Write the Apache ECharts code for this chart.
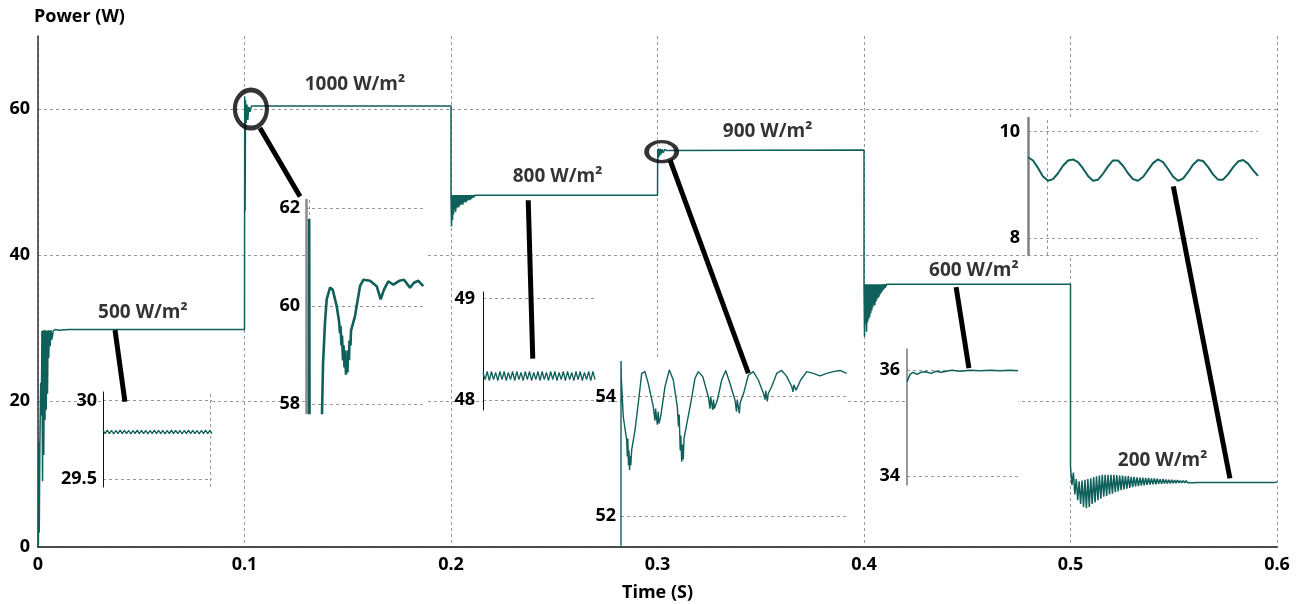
<!DOCTYPE html>
<html><head><meta charset="utf-8">
<script src="https://cdn.jsdelivr.net/npm/echarts@6/dist/echarts.min.js"></script>
<style>html,body{margin:0;padding:0;background:#fff}#c{width:1303px;height:604px}</style>
</head><body><div id="c"></div>
<script>
// ---------- main axes ----------
const xTicks = [0, 0.1, 0.2, 0.3, 0.4, 0.5, 0.6];
const yTicks = [0, 20, 40, 60];

// ---------- main trace (time s, power W) ----------
const startup = [[0,0],[0.0002,0.5],[0.0004,14.4],[0.0006,2],[0.0009,14],[0.0013,22.5],[0.0016,18],[0.0019,29.6],[0.0022,9],[0.0025,29.7],[0.0028,12.6],[0.0031,29.7],[0.0034,17.4],[0.0037,29.7],[0.0040,18.8],[0.0043,29.6],[0.0046,21],[0.0049,29.7],[0.0052,25.9],[0.0055,29.7],[0.0059,27.5],[0.0063,29.7],[0.0067,28.4],[0.0074,29.6],[0.0085,29.8],[0.010,29.7],[0.015,29.8],[0.1,29.8]];
const step1000 = [[0.1001,61.7],[0.1003,46],[0.1005,61.2],[0.1008,58.1],[0.1012,60.6],[0.1016,58.5],[0.1021,60.3],[0.1027,59.6],[0.1034,60.4],[0.2,60.4]];
const dip800 = [48.0,43.9,48.2,44.8,48.2,45.6,48.2,46.2,48.2,45.9,48.2,46.4,48.2,46.6,48.2,46.5,48.2,46.8,48.2,46.9,48.2,47.0,48.2,46.9,48.2,47.2,48.2,47.3,48.2,47.2,48.2,47.4,48.2,47.5,48.2,47.6,48.2,47.5,48.2,47.7,48.2,47.8,48.2,47.9,48.2,47.9,48.2,48.0,48.2,48.1,48.2,48.1];
const step900 = [[0.213,48.2],[0.3,48.2],[0.3001,54.5],[0.3003,53.3],[0.3006,54.6],[0.3009,53.5],[0.3013,54.5],[0.3017,53.8],[0.3022,54.5],[0.3028,54.0],[0.3035,54.45],[0.3045,54.3],[0.4,54.4]];
const dip600 = [36.0,28.8,36.0,30.5,36.0,29.5,36.0,30.8,36.0,31.2,36.0,31.5,36.0,32.0,36.0,32.4,36.0,32.8,36.0,33.2,36.0,33.1,36.0,33.6,36.0,33.9,36.0,34.1,36.0,34.3,36.0,34.6,36.0,34.8,36.0,35.0,36.0,35.2,36.0,35.4,36.0,35.5,36.0,35.7,36.0,35.8,36.0,35.9,36.0,36.0];
const hold600 = [[0.5,36.0]];
const dip200 = [11.0,8.5,10.2,7.2,9.3,6.4,9.0,5.9,9.1,5.5,9.2,5.3,
  9.3,5.5,9.4,5.9,9.6,6.1,9.7,6.4,9.8,6.6,9.9,6.9,
  9.9,7.0,9.9,7.2,9.9,7.3,9.9,7.5,9.85,7.6,9.8,7.8,
  9.8,7.9,9.7,8.0,9.7,8.1,9.6,8.2,9.6,8.3,9.55,8.35,
  9.5,8.4,9.5,8.45,9.45,8.5,9.45,8.55,9.4,8.6,9.4,8.6,
  9.35,8.65,9.3,8.65,9.3,8.7,9.25,8.7,9.2,8.7,9.2,8.75,
  9.15,8.75,9.15,8.8,9.1,8.8,9.1,8.8,9.1,8.8,9.05,8.8,
  9.05,8.8,9.05,8.82,9.0,8.82,9.0,8.82,9.0,8.82,9.0,8.82,
  9.0,8.82,9.0,8.82,9.0,8.82,9.0,8.82,9.0,8.82,9.0,8.82,
  9.0,8.82,9.0,8.82,9.0,8.82,9.0,8.82,9.0,8.82,9.0,8.82,
  9.0,8.82,9.0,8.82,9.0,8.82,9.0,8.82,9.0,8.82,9.0,8.82,
  9.0,8.82,9.0,8.82,9.0,8.82,9.0,8.82,9.0,8.82,9.0];
const endPoint = [[0.6,8.9]];
const dip800Start = 0.2, dip800Step = 0.00025;
const dip600Start = 0.4, dip600Step = 0.00025;
const dip200Start = 0.5, dip200Step = 0.0007;

// ---------- zoom insets (inset time units, power W) ----------
const inset500 = [29.81,29.79,29.812,29.79,29.81,29.788,29.81,29.79,29.812,29.79,29.81,29.79,29.81,29.788,29.81,29.79,29.812,29.79,29.81,29.79,29.81,29.788,29.81,29.79,29.812,29.79,29.81,29.79,29.81,29.788,29.81,29.79,29.812,29.79,29.81,29.79,29.81,29.788,29.81,29.79,29.812,29.79,29.81,29.79,29.81,29.788,29.81,29.79,29.812,29.79,29.81,29.79];
const inset1000 = [[3,57.3],[3.2,61.78],[3.6,57.3],[15.5,57.3],[17,58.8],[19,59.67],[20.7,60.14],[24,60.38],[26.7,60.34],[30.7,60.0],[33,59.7],[34,59.45],[34.5,59.6],[35.5,59.2],[36,59.4],[37,58.9],[37.5,59.2],[38.5,58.75],[39,59.1],[40,58.6],[40.5,59.0],[41.5,58.65],[42,59.1],[43,58.9],[43.5,59.3],[44.5,59.2],[45,59.5],[49,59.8],[54,60.41],[57.3,60.54],[64,60.52],[70.7,60.41],[74.7,60.14],[78,60.34],[82.3,60.51],[87.3,60.44],[93.3,60.52],[98,60.54],[104,60.38],[108,60.48],[112.3,60.52],[117.3,60.41]];
const inset800 = [48.27,48.2,48.28,48.19,48.28,48.2,48.27,48.19,48.28,48.2,48.28,48.19,48.27,48.2,48.28,48.19,48.28,48.2,48.27,48.19,48.28,48.2,48.28,48.19,48.27,48.2,48.28,48.19,48.28,48.2,48.27,48.19,48.28,48.2,48.28,48.19,48.27,48.2,48.28,48.19,48.28,48.2,48.27,48.19,48.28,48.2,48.28,48.19,48.27,48.2,48.28,48.19,48.28,48.2];
const inset900 = [[0,51.3],[0,54.6],[0.3,54.31],[2.3,53.66],[5.7,53.27],[6.3,53.0],[6.8,53.3],[7.5,52.85],[8.0,53.1],[8.5,52.77],[9.2,53.0],[9.8,52.85],[10.7,53.11],[14,53.44],[17.3,53.89],[20.7,54.39],[24,54.42],[27.3,54.22],[32.3,53.83],[34,53.6],[34.6,53.8],[36.3,53.53],[37.2,53.75],[38,53.55],[39.7,53.67],[44,54.17],[48.3,54.45],[52.3,54.28],[56.3,53.83],[57.5,53.5],[58.2,53.7],[59.2,53.1],[59.8,53.35],[60.7,52.91],[61.5,53.2],[62.3,52.95],[63,53.3],[65,53.33],[69.7,53.89],[74,54.31],[77.3,54.42],[81.7,54.34],[87.3,54.0],[89,53.8],[89.6,54.0],[91.7,53.78],[92.5,53.95],[93.3,53.8],[96.3,53.94],[100.7,54.28],[104.7,54.44],[109,54.22],[114,53.94],[115.5,53.75],[116.2,53.95],[118.3,53.72],[119.2,53.9],[123,54.08],[127.3,54.36],[132.3,54.42],[137.3,54.28],[142.3,54.06],[144,53.95],[144.7,54.1],[146.3,53.92],[147.2,54.05],[150.7,54.17],[155.7,54.39],[160.7,54.44],[165.7,54.34],[170.7,54.17],[172,54.08],[172.8,54.2],[175,54.11],[179.7,54.28],[185.7,54.42],[192.3,54.39],[199,54.35],[205.7,54.39],[212.3,54.42],[219,54.44],[225.7,54.39]];
const inset600 = [[0,35.78],[3,35.92],[6,35.96],[10,35.92],[14,35.96],[19,35.97],[24,35.94],[29,35.98],[34,35.96],[39,35.98],[45,36.0],[53,35.98],[63,36.0],[73,35.99],[83,36.0],[93,35.99],[103,36.0],[111,35.99]];
const inset200 = [9.52,9.46,9.32,9.16,9.08,9.11,9.22,9.36,9.46,9.48,9.43,9.31,9.17,9.08,9.10,9.21,9.35,9.46,9.46,9.36,9.22,9.11,9.08,9.15,9.28,9.41,9.48,9.43,9.30,9.16,9.08,9.12,9.24,9.38,9.47,9.45,9.34,9.20,9.10,9.10,9.20,9.33,9.44,9.47,9.40,9.28,9.17];

// ---------- annotations (main data coordinates) ----------
const labelTexts = ['500 W/m²','1000 W/m²','800 W/m²','900 W/m²','600 W/m²','200 W/m²'];
const labelPos = [[0.0508,32.05],[0.1535,63.3],[0.2516,50.7],[0.3533,56.9],[0.4532,37.85],[0.5446,11.8]];
const callouts = [
  [[0.0373,29.7],[0.0421,19.9]],
  [[0.1075,57.4],[0.1269,48.0]],
  [[0.2374,47.5],[0.2396,25.8]],
  [[0.3061,53.0],[0.3440,23.8]],
  [[0.4446,35.6],[0.4508,24.5]],
  [[0.5498,49.4],[0.5772,9.4]]
];
const circles = [[0.1031,60.0],[0.3020,54.15]];

// ---------- build ----------
const TEAL = '#0f5f5b';
const FONT = 'Open Sans';
function sampled(t0, dt, vals){ return vals.map((v,i)=>[t0+i*dt, v]); }
const mainData = [].concat(startup, step1000,
  sampled(dip800Start, dip800Step, dip800), step900,
  sampled(dip600Start, dip600Step, dip600), hold600,
  sampled(dip200Start, dip200Step, dip200), endPoint);

const insets = [
  {rect:{left:103,top:392,width:109,height:95}, y:[29.45,30.055], ticks:[29.5,30], x:[0,51], data:inset500.map((v,i)=>[i,v]), axis:{color:'#111',width:1}, vline:50.1, lw:1.3, margin:6},
  {rect:{left:306,top:200,width:119,height:213}, y:[57.82,62.17], ticks:[58,60,62], x:[0,119], data:inset1000, axis:{color:'#8a8a8a',width:2.5}, vline:3, lw:2.6, margin:6},
  {rect:{left:483,top:292,width:112,height:118}, y:[47.9,49.065], ticks:[48,49], x:[0,53], data:inset800.map((v,i)=>[i,v]), axis:{color:'#111',width:1}, vline:null, lw:1.3, margin:8},
  {rect:{left:621,top:360,width:227,height:185}, y:[51.515,54.615], ticks:[52,54], x:[0,227], data:inset900, axis:null, vline:null, lw:1.4, margin:5},
  {rect:{left:907,top:349,width:111,height:136}, y:[33.83,36.4], ticks:[34,36], x:[0,111], data:inset600, axis:{color:'#777',width:1.5}, vline:null, lw:1.5, margin:7},
  {rect:{left:1028,top:118,width:230,height:137}, y:[7.686,10.257], ticks:[8,10], x:[0,46], data:inset200.map((v,i)=>[i,v]), axis:{color:'#808080',width:2.5}, vline:3.8, lw:2, margin:8}
];

const grid = [{left:38, right:26, top:36, bottom:57, z:0, containLabel:false, outerBoundsMode:'none'}];
const xAxis = [
  {gridIndex:0, type:'value', min:0, max:0.6, interval:0.1,
   axisLine:{show:true, onZero:false, lineStyle:{color:'#333', width:1.5}},
   axisTick:{show:false},
   axisLabel:{color:'#000', fontSize:18, fontWeight:'bold', fontFamily:FONT, margin:9, formatter:v=>String(+v.toFixed(1))},
   splitLine:{show:true, lineStyle:{color:'#999', type:[3,3], width:1}},
   name:'Time (S)', nameLocation:'middle', nameGap:37,
   nameTextStyle:{color:'#000', fontSize:18, fontWeight:'bold', fontFamily:FONT}}
];
const yAxis = [
  {gridIndex:0, type:'value', min:0, max:70, interval:20,
   axisLine:{show:true, lineStyle:{color:'#333', width:1.5}},
   axisTick:{show:false, customValues:yTicks},
   axisLabel:{color:'#000', fontSize:18, fontWeight:'bold', fontFamily:FONT, margin:8, customValues:yTicks, formatter:v=>v>65?'':String(v)},
   splitLine:{show:true, lineStyle:{color:'#999', type:[3,3], width:1}},
   name:'Power (W)', nameLocation:'end', nameGap:19,
   nameTextStyle:{color:'#000', fontSize:18, fontWeight:'bold', fontFamily:FONT, align:'left', verticalAlign:'middle', padding:[0,0,0,-4]}}
];
const series = [
  {type:'line', xAxisIndex:0, yAxisIndex:0, data:mainData, showSymbol:false, symbol:'none',
   lineStyle:{color:TEAL, width:1.5}, z:2, animation:false}
];

insets.forEach((ins, k)=>{
  const gi = k+1;
  grid.push(Object.assign({show:true, backgroundColor:'#fff', borderWidth:0, z:3, containLabel:false, outerBoundsMode:'none'}, ins.rect));
  xAxis.push({gridIndex:gi, type:'value', min:ins.x[0], max:ins.x[1], show:false});
  yAxis.push({gridIndex:gi, type:'value', min:ins.y[0], max:ins.y[1], z:4,
    axisLine:{show:!!ins.axis, lineStyle:ins.axis||{}},
    axisTick:{show:false, customValues:ins.ticks},
    axisLabel:{color:'#000', fontSize:18, fontWeight:'bold', fontFamily:FONT, margin:ins.margin, customValues:ins.ticks, formatter:v=>String(Math.round(v*10)/10)},
    splitLine:{show:true, lineStyle:{color:'#999', type:[3,3], width:1}}});
  const s = {type:'line', xAxisIndex:gi, yAxisIndex:gi, data:ins.data, showSymbol:false, symbol:'none',
    lineStyle:{color:TEAL, width:ins.lw}, z:5, animation:false, clip:true};
  if (ins.vline !== null) {
    s.markLine = {silent:true, symbol:'none', label:{show:false}, animation:false,
      lineStyle:{color:'#999', type:[3,3], width:1}, data:[{xAxis:ins.vline}]};
  }
  series.push(s);
});
// top frame line of the main plot (last x axis, grid 0)
xAxis.push({gridIndex:0, type:'value', min:0, max:0.6, position:'top', z:1,
   axisLine:{show:true, lineStyle:{color:'#444', width:1.5}}, axisTick:{show:false}, axisLabel:{show:false}, splitLine:{show:false}});

callouts.forEach(seg=>{
  series.push({type:'line', xAxisIndex:0, yAxisIndex:0, data:seg, showSymbol:false, symbol:'none',
    lineStyle:{color:'#000', width:5, cap:'butt'}, z:8, animation:false, clip:false});
});
series.push({type:'scatter', xAxisIndex:0, yAxisIndex:0, data:[circles[0]], symbol:'circle', symbolSize:[32,38],
  itemStyle:{color:'rgba(0,0,0,0)', borderColor:'#000', borderWidth:4.5}, z:8, animation:false, silent:true});
series.push({type:'scatter', xAxisIndex:0, yAxisIndex:0, data:[circles[1]], symbol:'circle', symbolSize:[30,20],
  itemStyle:{color:'rgba(0,0,0,0)', borderColor:'#000', borderWidth:4}, z:8, animation:false, silent:true});
series.push({type:'scatter', xAxisIndex:0, yAxisIndex:0,
  data:labelPos.map((p,i)=>({value:p, name:labelTexts[i]})), symbolSize:0, z:9, animation:false, silent:true,
  label:{show:true, position:'inside', formatter:p=>p.name, color:'#000', fontSize:19, fontWeight:'bold', fontFamily:FONT}});

const chart = echarts.init(document.getElementById('c'), null, {renderer:'canvas'});
chart.setOption({animation:false, backgroundColor:'#fff', grid, xAxis, yAxis, series});
</script></body></html>
